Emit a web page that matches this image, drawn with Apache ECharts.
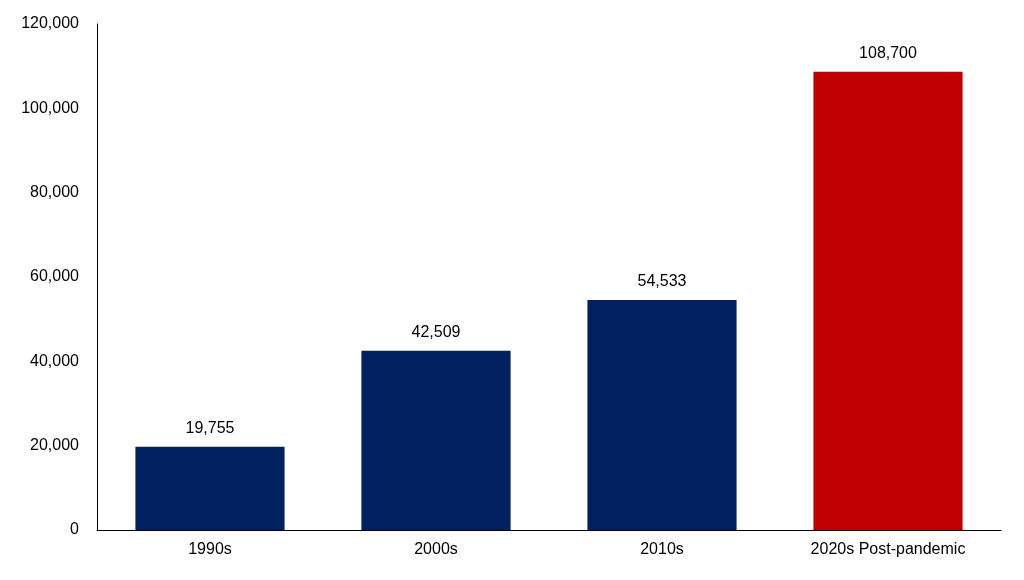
<!DOCTYPE html>
<html><head><meta charset="utf-8">
<script src="https://cdn.jsdelivr.net/npm/echarts@6/dist/echarts.min.js"></script>
<style>html,body{margin:0;padding:0;background:#fff}#c{width:1024px;height:580px}</style>
</head><body><div id="c"></div>
<script>
const categories = ["1990s", "2000s", "2010s", "2020s Post-pandemic"];
const values = [19755, 42509, 54533, 108700];
const barColors = ["#002060", "#002060", "#002060", "#C00000"];
const chart = echarts.init(document.getElementById('c'));
const fmt = v => v.toLocaleString('en-US');
chart.setOption({
  animation: false,
  textStyle: { fontFamily: 'Liberation Sans, Arial, sans-serif' },
  grid: { left: 97, right: 23, top: 24, bottom: 50 },
  xAxis: {
    type: 'category', data: categories,
    axisLine: { lineStyle: { color: '#000', width: 1 } },
    axisTick: { show: false },
    axisLabel: { color: '#000', fontSize: 16, margin: 12 }
  },
  yAxis: {
    type: 'value', min: 0, max: 120000, interval: 20000,
    axisLine: { show: true, lineStyle: { color: '#000', width: 1 } },
    axisTick: { show: false },
    splitLine: { show: false },
    axisLabel: { color: '#000', fontSize: 16, margin: 18, formatter: fmt }
  },
  series: [{
    type: 'bar', barWidth: '66%',
    data: values.map((v, i) => ({ value: v, itemStyle: { color: barColors[i] } })),
    label: { show: true, position: 'top', color: '#000', fontSize: 16, distance: 10, formatter: p => fmt(p.value) }
  }]
});
</script></body></html>
